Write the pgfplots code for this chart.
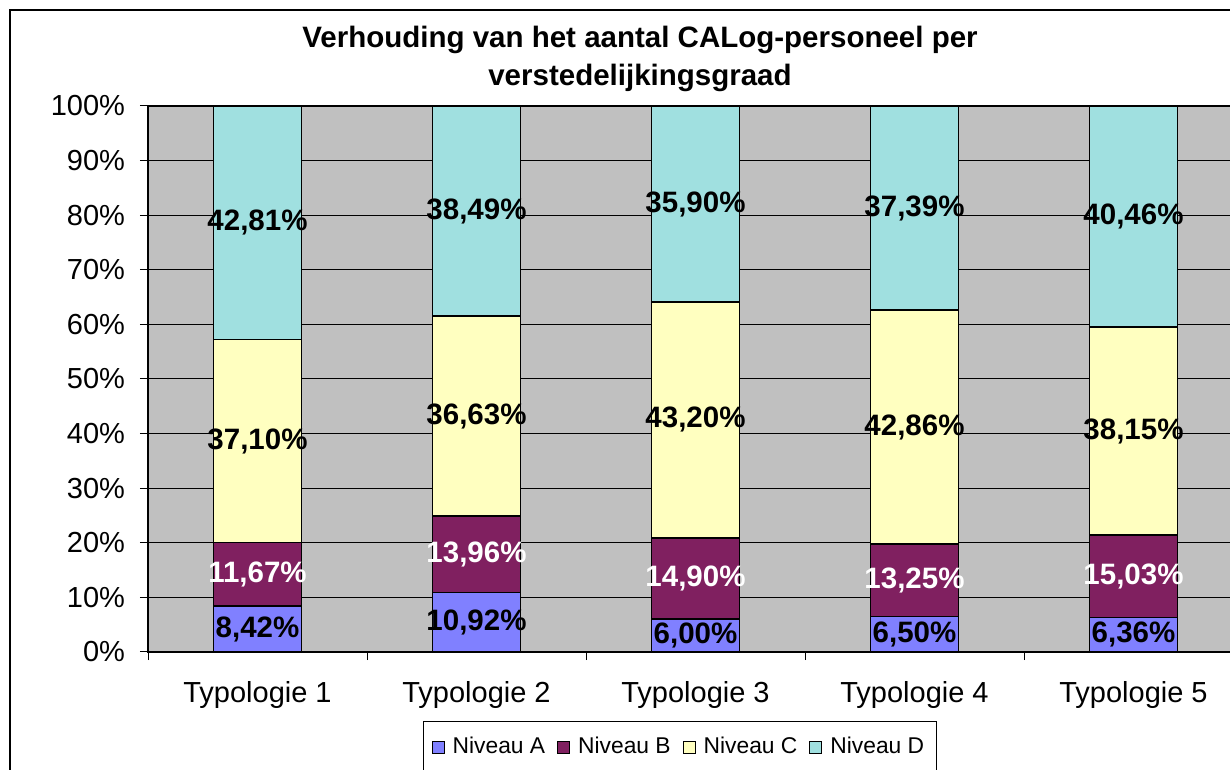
\documentclass[border=0pt]{standalone}
\usepackage{pgfplots}
\pgfplotsset{compat=1.18}
\usepackage{fontspec}
\setmainfont{Liberation Sans}
\definecolor{nivA}{HTML}{8080FF}
\definecolor{nivB}{HTML}{802060}
\definecolor{nivC}{HTML}{FFFFC0}
\definecolor{nivD}{HTML}{A0E0E0}
\definecolor{plotbg}{HTML}{C0C0C0}
\begin{document}
\begin{tikzpicture}
\useasboundingbox (0,0) rectangle (615pt,385pt);
\fill[white] (0,0) rectangle (615pt,385pt);
\draw[black, line width=0.75pt] (5pt,-20pt) -- (5pt,380pt) -- (700pt,380pt);
\node[anchor=base, font=\bfseries\fontsize{14.75}{17}\selectfont] at (320pt,361pt) {Verhouding van het aantal CALog-personeel per};
\node[anchor=base, font=\bfseries\fontsize{14.75}{17}\selectfont] at (320pt,342pt) {verstedelijkingsgraad};
\begin{axis}[
  at={(74pt,59pt)}, anchor=south west,
  scale only axis, width=547.5pt, height=273pt,
  ybar stacked, bar width=44pt,
  xmin=-0.5, xmax=4.5, ymin=0, ymax=100,
  axis background/.style={fill=plotbg},
  axis line style={black, line width=0.75pt},
  ymajorgrids, grid style={black, line width=0.5pt},
  tick align=outside, xtick pos=lower, ytick pos=left,
  major tick length=4pt,
  tick style={black, line width=0.5pt},
  ytick={0,10,...,100},
  yticklabels={0\%,10\%,20\%,30\%,40\%,50\%,60\%,70\%,80\%,90\%,100\%},
  yticklabel style={xshift=-4pt},
  xtick={-0.5,0.5,1.5,2.5,3.5,4.5},
  xticklabels={},
  extra x ticks={0,1,2,3,4},
  extra x tick labels={Typologie 1,Typologie 2,Typologie 3,Typologie 4,Typologie 5},
  extra x tick style={major tick length=0pt, xticklabel style={yshift=-11pt}},
  ticklabel style={font=\fontsize{14.5}{17}\selectfont},
  nodes near coords,
  point meta=explicit symbolic,
  every node near coord/.append style={anchor=center, font=\bfseries\fontsize{14.75}{16}\selectfont},
  legend columns=4,
  legend style={at={(0.4858,-0.174)}, anchor=center, draw=black, line width=0.5pt, font=\fontsize{11.4}{14}\selectfont,
    inner ysep=6pt, inner xsep=4pt,
    /tikz/every odd column/.append style={column sep=2pt},
    /tikz/every even column/.append style={column sep=4pt}},
  legend image code/.code={\draw[#1,/tikz/.cd,line width=0.5pt] (0pt,-3pt) rectangle (6pt,3pt);},
]
\addplot[fill=nivA, draw=black, line width=0.75pt] coordinates {
  (0,8.42) [8,42\%] (1,10.92) [10,92\%] (2,6.00) [6,00\%] (3,6.50) [6,50\%] (4,6.36) [6,36\%]};
\addplot[fill=nivB, draw=black, line width=0.75pt, every node near coord/.append style={text=white}] coordinates {
  (0,11.67) [11,67\%] (1,13.96) [13,96\%] (2,14.90) [14,90\%] (3,13.25) [13,25\%] (4,15.03) [15,03\%]};
\addplot[fill=nivC, draw=black, line width=0.75pt] coordinates {
  (0,37.10) [37,10\%] (1,36.63) [36,63\%] (2,43.20) [43,20\%] (3,42.86) [42,86\%] (4,38.15) [38,15\%]};
\addplot[fill=nivD, draw=black, line width=0.75pt] coordinates {
  (0,42.81) [42,81\%] (1,38.49) [38,49\%] (2,35.90) [35,90\%] (3,37.39) [37,39\%] (4,40.46) [40,46\%]};
\legend{Niveau A, Niveau B, Niveau C, Niveau D}
\end{axis}
\end{tikzpicture}
\end{document}
